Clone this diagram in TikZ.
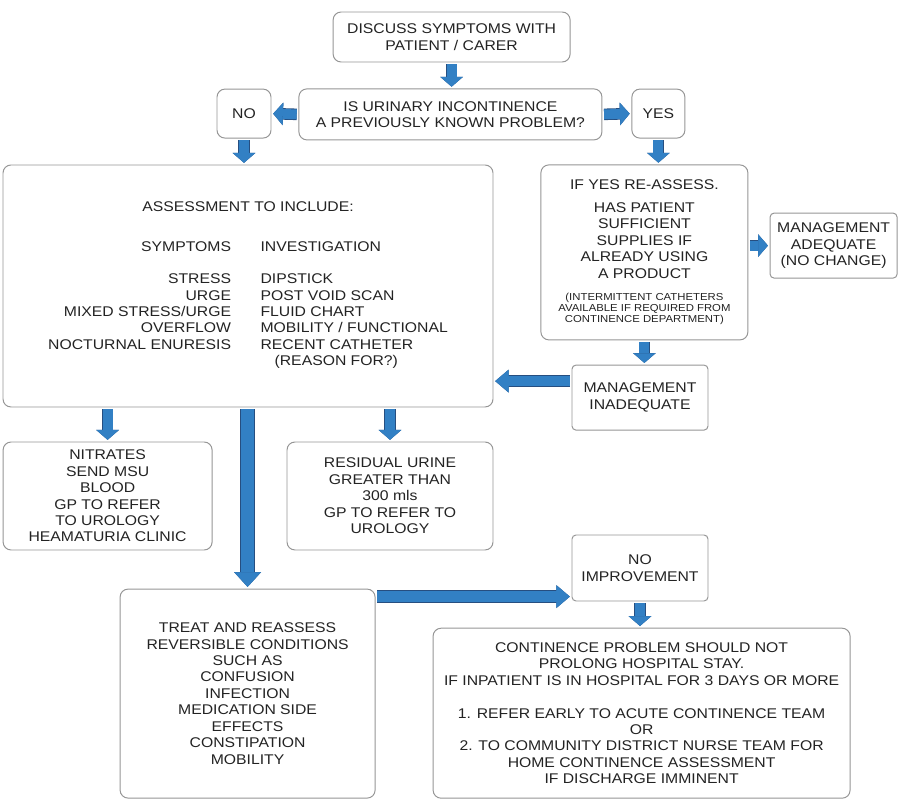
\documentclass[tikz,border=0pt]{standalone}
\usepackage{fontspec}
\setmainfont{Liberation Sans}[FakeStretch=1.12]
\usetikzlibrary{arrows.meta,positioning,calc}
\definecolor{ArrowBlue}{RGB}{50,128,196}
\definecolor{ArrowEdge}{RGB}{38,78,128}
\definecolor{BoxEdge}{RGB}{150,150,150}
\definecolor{TextGray}{RGB}{35,35,35}
\newcommand{\notefont}{\fontsize{7.2}{7.8}\selectfont}
\tikzset{
  flowbox/.style={draw=BoxEdge,line width=0.7pt,rounded corners=2mm,fill=white,
    inner sep=0pt,align=center,text=TextGray,font=\fontsize{10}{11.7}\selectfont},
  squarebox/.style={flowbox,rounded corners=1mm},
  blockarrow/.style n args={3}{draw=ArrowBlue,line width=#1,
    shorten <=1.2pt,shorten >=1.2pt,
    -{Triangle[length=#3,width=#2,line width=0.3pt]},
    preaction={draw=ArrowEdge,line width=#1+1.2pt,
      -{Triangle[length=#3,width=#2,line width=1.2pt]}}},
  flowarrow/.style={blockarrow={7pt}{16pt}{7pt}},
  longarrow/.style={blockarrow={7.5pt}{16pt}{9.5pt}},
}

\begin{document}
\begin{tikzpicture}
  \useasboundingbox (0,0) rectangle (22.65,-20.1);
  % top of the chart
  \node[flowbox,minimum width=5.925cm,minimum height=1.25cm] (discuss) at (11.29,-0.925)
    {DISCUSS SYMPTOMS WITH\\PATIENT / CARER};
  \node[flowbox,minimum width=7.575cm,minimum height=1.275cm] (question) at (11.26,-2.86)
    {IS URINARY INCONTINENCE\\A PREVIOUSLY KNOWN PROBLEM?};
  \node[flowbox,minimum width=1.35cm,minimum height=1.225cm] (no) at (6.1,-2.84) {NO};
  \node[flowbox,minimum width=1.325cm,minimum height=1.225cm] (yes) at (16.46,-2.84) {YES};

  % assessment and re-assessment
  \node[flowbox,minimum width=12.25cm,minimum height=6.05cm] (assess) at (6.2,-7.15)
    {ASSESSMENT TO INCLUDE:\\[19.6pt]
     \begin{tabular}{@{}r@{\hspace{21pt}}l@{}}
       SYMPTOMS & INVESTIGATION\\[11pt]
       STRESS & DIPSTICK\\
       URGE & POST VOID SCAN\\
       MIXED STRESS/URGE & FLUID CHART\\
       OVERFLOW & MOBILITY / FUNCTIONAL\\
       NOCTURNAL ENURESIS & RECENT CATHETER\\
        & \hspace*{1em}(REASON FOR?)
     \end{tabular}};
  \node[flowbox,minimum width=5.175cm,minimum height=4.375cm] (reassess) at (16.11,-6.31)
    {IF YES RE-ASSESS.\\[5pt]
     HAS PATIENT\\SUFFICIENT\\SUPPLIES IF\\ALREADY USING\\A PRODUCT\\[4pt]
     \notefont\begin{tabular}[t]{@{}c@{}}
       (INTERMITTENT CATHETERS\\
       AVAILABLE IF REQUIRED FROM\\
       CONTINENCE DEPARTMENT)
     \end{tabular}};
  \node[squarebox,minimum width=3.175cm,minimum height=1.625cm] (adequate) at (20.84,-6.14)
    {MANAGEMENT\\ADEQUATE\\(NO CHANGE)};
  \node[squarebox,minimum width=3.4cm,minimum height=1.625cm] (inadequate) at (16.0,-9.94)
    {MANAGEMENT\\INADEQUATE};

  % results of the assessment
  \node[flowbox,minimum width=5.225cm,minimum height=2.7cm] (nitrates) at (2.69,-12.4)
    {NITRATES\\SEND MSU\\BLOOD\\GP TO REFER\\TO UROLOGY\\HEAMATURIA CLINIC};
  \node[flowbox,minimum width=5.15cm,minimum height=2.7cm] (residual) at (9.75,-12.4)
    {RESIDUAL URINE\\GREATER THAN\\300 mls\\GP TO REFER TO\\UROLOGY};
  \node[flowbox,minimum width=6.375cm,minimum height=5.225cm] (treat) at (6.19,-17.34)
    {TREAT AND REASSESS\\REVERSIBLE CONDITIONS\\SUCH AS\\CONFUSION\\INFECTION\\
     MEDICATION SIDE\\EFFECTS\\CONSTIPATION\\MOBILITY};
  \node[squarebox,minimum width=3.4cm,minimum height=1.65cm] (noimp) at (16.0,-14.2)
    {NO\\IMPROVEMENT};
  \node[flowbox,minimum width=10.425cm,minimum height=4.25cm] (continence) at (16.04,-17.83)
    {CONTINENCE PROBLEM SHOULD NOT\\PROLONG HOSPITAL STAY.\\
     IF INPATIENT IS IN HOSPITAL FOR 3 DAYS OR MORE\\[11.7pt]
     1. REFER EARLY TO ACUTE CONTINENCE TEAM\\OR\\
     2. TO COMMUNITY DISTRICT NURSE TEAM FOR\\HOME CONTINENCE ASSESSMENT\\
     IF DISCHARGE IMMINENT};

  % connectors
  \draw[flowarrow] (discuss.south) -- (discuss.south |- question.north);
  \draw[flowarrow] (question.west) -- (no.east);
  \draw[flowarrow] (question.east) -- (yes.west);
  \draw[flowarrow] (no.south) -- (no.south |- assess.north);
  \draw[flowarrow] (yes.south) -- (yes.south |- reassess.north);
  \draw[flowarrow] (adequate.west -| reassess.east) -- (adequate.west);
  \draw[flowarrow] (reassess.south) -- (reassess.south |- inadequate.north);
  \coordinate (back) at ($(inadequate.north west)!0.25!(inadequate.south west)$);
  \draw[longarrow] (back) -- (back -| assess.east);
  \draw[flowarrow] (nitrates.north |- assess.south) -- (nitrates.north);
  \draw[flowarrow] (residual.north |- assess.south) -- (residual.north);
  \draw[blockarrow={9pt}{19pt}{10.5pt}] (treat.north |- assess.south) -- (treat.north);
  \draw[longarrow] ([yshift=-2mm]treat.north east) -- ([yshift=-2mm]treat.north east -| noimp.west);
  \draw[flowarrow] (noimp.south) -- (noimp.south |- continence.north);
\end{tikzpicture}
\end{document}
